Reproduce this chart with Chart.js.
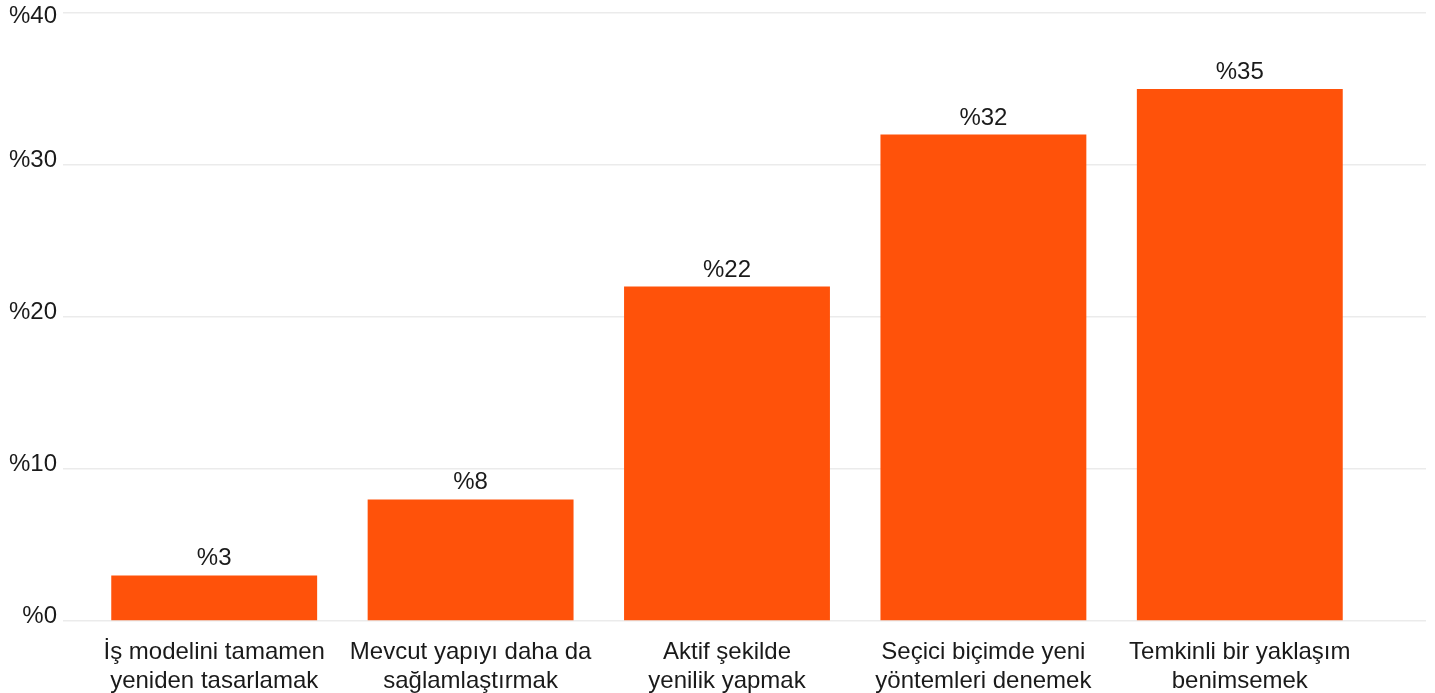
<!DOCTYPE html>
<html>
<head>
<meta charset="utf-8">
<script src="https://cdn.jsdelivr.net/npm/chart.js@4"></script>
<style>
  html, body { margin: 0; padding: 0; background: #fff; }
  #wrap { width: 1435px; height: 693px; }
</style>
</head>
<body>
<div id="wrap"><canvas id="chart" width="1435" height="693"></canvas></div>
<script>
const categories = [
  ["İş modelini tamamen", "yeniden tasarlamak"],
  ["Mevcut yapıyı daha da", "sağlamlaştırmak"],
  ["Aktif şekilde", "yenilik yapmak"],
  ["Seçici biçimde yeni", "yöntemleri denemek"],
  ["Temkinli bir yaklaşım", "benimsemek"]
];
const shares = [3, 8, 22, 32, 35];
const yTicks = [0, 10, 20, 30, 40];

const barColor = "#FF520A";
const gridColor = "#EBEBEB";
const textColor = "#1A1A1A";
const fontFamily = "'Liberation Sans', Arial, Helvetica, sans-serif";

const valueLabels = {
  id: "valueLabels",
  afterDatasetsDraw(chart) {
    const { ctx } = chart;
    const meta = chart.getDatasetMeta(0);
    ctx.save();
    ctx.font = `24px ${fontFamily}`;
    ctx.fillStyle = textColor;
    ctx.textAlign = "center";
    ctx.textBaseline = "alphabetic";
    meta.data.forEach((bar, i) => {
      ctx.fillText(`%${shares[i]}`, bar.x, bar.y - 10);
    });
    ctx.restore();
  }
};

// the top tick label sits below its line, kept inside the canvas
function yLabel(v) {
  return v === yTicks[yTicks.length - 1] ? ["", `%${v}`] : `%${v}`;
}

new Chart(document.getElementById("chart"), {
  type: "bar",
  data: {
    labels: categories,
    datasets: [{
      data: shares,
      backgroundColor: barColor,
      borderWidth: 0,
      categoryPercentage: 1,
      barPercentage: 0.803
    }]
  },
  options: {
    responsive: false,
    animation: false,
    layout: { padding: { top: 13, right: 0, bottom: 0, left: 0 } },
    plugins: { legend: { display: false }, tooltip: { enabled: false } },
    scales: {
      x: {
        grid: { display: false },
        border: { display: false },
        ticks: {
          color: textColor,
          font: { family: fontFamily, size: 24, lineHeight: 29 / 24 },
          padding: 9,
          maxRotation: 0,
          autoSkip: false
        },
        afterFit(scale) { scale.height = 72; }
      },
      y: {
        position: "left",
        min: 0,
        max: 40,
        afterBuildTicks(scale) { scale.ticks = yTicks.map((v) => ({ value: v })); },
        grid: { color: gridColor, lineWidth: 1.5, tickLength: 23, tickColor: gridColor },
        border: { display: false },
        ticks: {
          color: textColor,
          font: { family: fontFamily, size: 24, lineHeight: 17.4 / 24 },
          padding: 6,
          labelOffset: -5,
          callback: yLabel
        },
        afterFit(scale) {
          scale.width = 86;
          scale.paddingTop = 0;
          scale.paddingBottom = 0;
        }
      },
      yRight: {
        position: "right",
        min: 0,
        max: 40,
        afterBuildTicks(scale) { scale.ticks = yTicks.map((v) => ({ value: v })); },
        grid: { color: gridColor, lineWidth: 1.5, drawOnChartArea: false, tickLength: 58, tickColor: gridColor },
        border: { display: false },
        ticks: { display: false },
        afterFit(scale) {
          scale.width = 67;
          scale.paddingTop = 0;
          scale.paddingBottom = 0;
        }
      }
    }
  },
  plugins: [valueLabels]
});
</script>
</body>
</html>
